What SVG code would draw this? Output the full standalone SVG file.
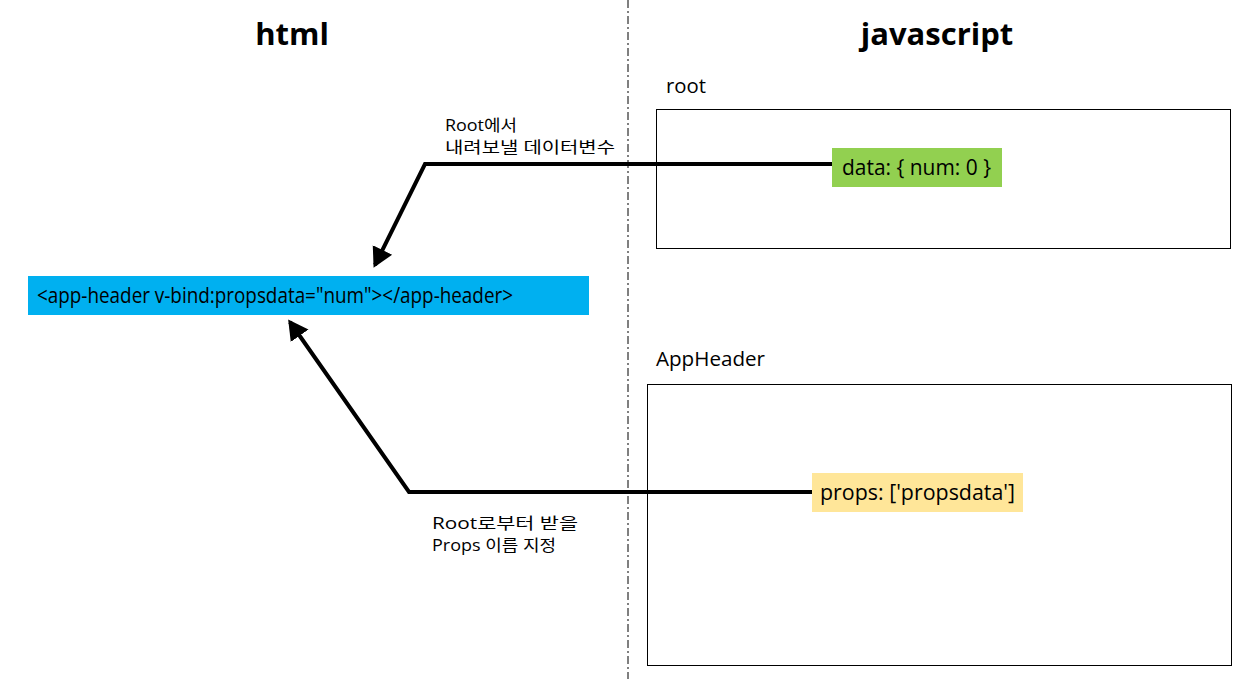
<svg xmlns="http://www.w3.org/2000/svg" width="1250" height="679" viewBox="0 0 1250 679">
<style>
text{font-family:"Open Sans","Noto Sans","Noto Sans CJK KR",sans-serif;fill:#000}
.title{font-size:31px;font-weight:bold;text-anchor:middle}
.lbl{font-size:20px}
.code{font-size:21px}
.note{font-size:16px}
.box{fill:#fff;stroke:#000;stroke-width:1}
.conn{fill:none;stroke:#000;stroke-width:4}
</style>
<defs>
<marker id="ah" markerWidth="6" markerHeight="6" refX="4.2" refY="3" orient="auto" markerUnits="strokeWidth">
<path d="M0,0.3 L5,3 L0,5.7 z" fill="#000"/>
</marker>
</defs>
<rect width="1250" height="679" fill="#fff"/>
<line x1="628" y1="0" x2="628" y2="679" stroke="#000" stroke-width="1" stroke-dasharray="8,3,2,3"/>
<text class="title" x="292" y="45">html</text>
<text class="title" x="937" y="45">javascript</text>
<g id="root">
<text class="lbl" x="666" y="93" textLength="40" lengthAdjust="spacingAndGlyphs">root</text>
<rect class="box" x="656.5" y="109.5" width="574" height="139"/>
</g>
<g id="apphdr">
<text class="lbl" x="656" y="366" textLength="109" lengthAdjust="spacingAndGlyphs">AppHeader</text>
<rect class="box" x="647.5" y="384.5" width="584" height="281"/>
</g>
<g id="connectors">
<polyline class="conn" points="832,164 425,164 375,265" marker-end="url(#ah)"/>
<polyline class="conn" points="812,492 409,492 290,322" marker-end="url(#ah)"/>
</g>
<g id="data">
<rect x="832" y="148" width="170" height="39" fill="#92D050"/>
<text class="code" x="842" y="175" textLength="149" lengthAdjust="spacingAndGlyphs">data: { num: 0 }</text>
</g>
<g id="appheader-tag">
<rect x="28" y="276" width="561" height="39" fill="#00B0F0"/>
<text class="code" x="37" y="303" textLength="476" lengthAdjust="spacingAndGlyphs">&lt;app-header v-bind:propsdata="num"&gt;&lt;/app-header&gt;</text>
</g>
<g id="props">
<rect x="812" y="473" width="211" height="39" fill="#FFE699"/>
<text class="code" x="820" y="500" textLength="195" lengthAdjust="spacingAndGlyphs">props: ['propsdata']</text>
</g>
<g id="note1">
<text class="note" x="445" y="131" textLength="72" lengthAdjust="spacingAndGlyphs">Root에서</text>
<text class="note" x="445" y="153" textLength="170" lengthAdjust="spacingAndGlyphs">내려보낼 데이터변수</text>
</g>
<g id="note2">
<text class="note" x="432" y="529" textLength="146" lengthAdjust="spacingAndGlyphs">Root로부터 받을</text>
<text class="note" x="432" y="551" textLength="124" lengthAdjust="spacingAndGlyphs">Props 이름 지정</text>
</g>
</svg>
